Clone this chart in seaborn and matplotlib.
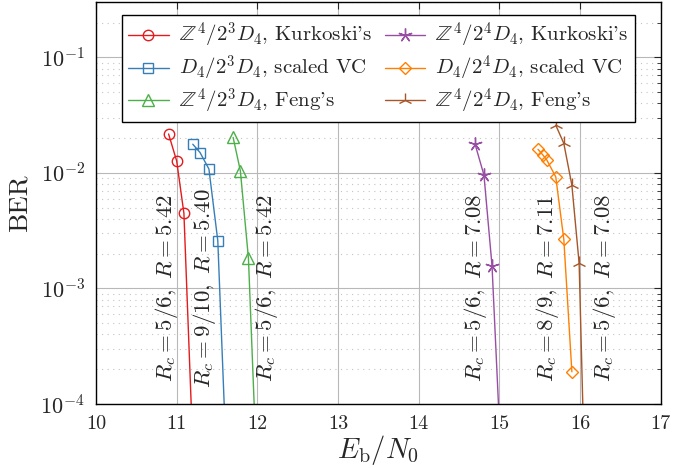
import matplotlib
matplotlib.use("Agg")
import matplotlib.pyplot as plt
import seaborn as sns
import numpy as np

# ---- data ----
x_red = [10.90, 11.00, 11.09, 11.20]
y_red = [0.0217, 0.0127, 0.00447, 4.3e-5]

x_blue = [11.20, 11.29, 11.40, 11.51, 11.60]
y_blue = [0.0177, 0.0150, 0.0108, 0.00259, 6.4e-5]

x_green = [11.70, 11.79, 11.89, 12.00]
y_green = [0.0203, 0.0104, 0.00182, 2.0e-5]

x_purple = [14.70, 14.81, 14.91, 15.00]
y_purple = [0.0177, 0.00957, 0.00157, 7.0e-5]

x_orange = [15.48, 15.54, 15.59, 15.70, 15.80, 15.90]
y_orange = [0.0160, 0.0143, 0.0129, 0.00925, 0.00266, 0.00019]

x_brown = [15.70, 15.80, 15.90, 15.99, 16.05]
y_brown = [0.0259, 0.0180, 0.00783, 0.00165, 4.0e-5]

labels = [r"$\mathbb{Z}^4/2^3D_4$, Kurkoski's",
          r"$D_4/2^3D_4$, scaled VC",
          r"$\mathbb{Z}^4/2^3D_4$, Feng's",
          r"$\mathbb{Z}^4/2^4D_4$, Kurkoski's",
          r"$D_4/2^4D_4$, scaled VC",
          r"$\mathbb{Z}^4/2^4D_4$, Feng's"]

ann_x = [10.88, 11.34, 12.12, 14.70, 15.60, 16.31]
ann_text = [r"$R_c = 5/6,\ R = 5.42$",
            r"$R_c = 9/10,\ R = 5.40$",
            r"$R_c = 5/6,\ R = 5.42$",
            r"$R_c = 5/6,\ R = 7.08$",
            r"$R_c = 8/9,\ R = 7.11$",
            r"$R_c = 5/6,\ R = 7.08$"]

xticks = [10, 11, 12, 13, 14, 15, 16, 17]

# ---- style ----
sns.set_style("white")
plt.rcParams["font.family"] = ["serif"]
plt.rcParams["font.serif"] = ["cmr10", "DejaVu Serif"]
plt.rcParams["mathtext.fontset"] = "cm"
plt.rcParams["axes.formatter.use_mathtext"] = True

colors = ["#e41a1c", "#377eb8", "#4daf4a", "#984ea3", "#ff7f00", "#a65628"]
markers = ["o", "s", "^", (5, 2, 0), "D", "2"]
msizes = [7.5, 7.0, 8.5, 10, 6.5, 10]

series = [(x_red, y_red), (x_blue, y_blue), (x_green, y_green),
          (x_purple, y_purple), (x_orange, y_orange), (x_brown, y_brown)]

fig = plt.figure(figsize=(6.94, 4.68), dpi=100)
ax = fig.add_axes([96 / 694, 1 - 404 / 468, (660.6 - 96) / 694, (404 - 1.7) / 468])

for (xs, ys), c, m, ms, lab in zip(series, colors, markers, msizes, labels):
    sns.lineplot(x=xs, y=ys, ax=ax, color=c, marker=m, markersize=ms,
                 markerfacecolor="none", markeredgecolor=c, markeredgewidth=1.0,
                 linewidth=1.0, label=lab, sort=False, estimator=None)

ax.set_yscale("log")
ax.set_xlim(10, 17)
ax.set_ylim(1e-4, 0.303)
ax.set_xticks(xticks)
ax.set_xticklabels([str(t) for t in xticks])

ax.grid(which="major", color="#b8b8b8", linewidth=0.8, linestyle="-")
ax.grid(which="minor", axis="y", color="#c4c4c4", linewidth=0.8, linestyle=(0, (1, 4)))
ax.set_axisbelow(True)

ax.tick_params(which="both", direction="in", top=True, right=True)
ax.tick_params(axis="x", labelsize=14.5, pad=8)
ax.tick_params(axis="y", labelsize=16, pad=8)
ax.tick_params(which="major", length=5, width=0.8)
ax.tick_params(which="minor", length=3, width=0.6)
for s in ax.spines.values():
    s.set_color("black")
    s.set_linewidth(1.0)

for xa, t in zip(ann_x, ann_text):
    ax.text(xa, 1e-3, t, rotation=90, ha="center", va="center", fontsize=16.5)

ax.set_xlabel(r"$E_\mathrm{b}/N_0$", fontsize=20.5, labelpad=0)
ax.set_ylabel("BER", fontsize=19.5, labelpad=6)

leg = ax.legend(loc="upper center", bbox_to_anchor=(0.5, 0.967), ncol=2,
                fontsize=15, frameon=True, fancybox=False, framealpha=1.0,
                edgecolor="black", handlelength=1.95, handletextpad=0.48,
                columnspacing=0.6, labelspacing=0.17, borderpad=0.3,
                borderaxespad=0)
leg.get_frame().set_linewidth(1.0)

fig.savefig("out.png", dpi=100)
